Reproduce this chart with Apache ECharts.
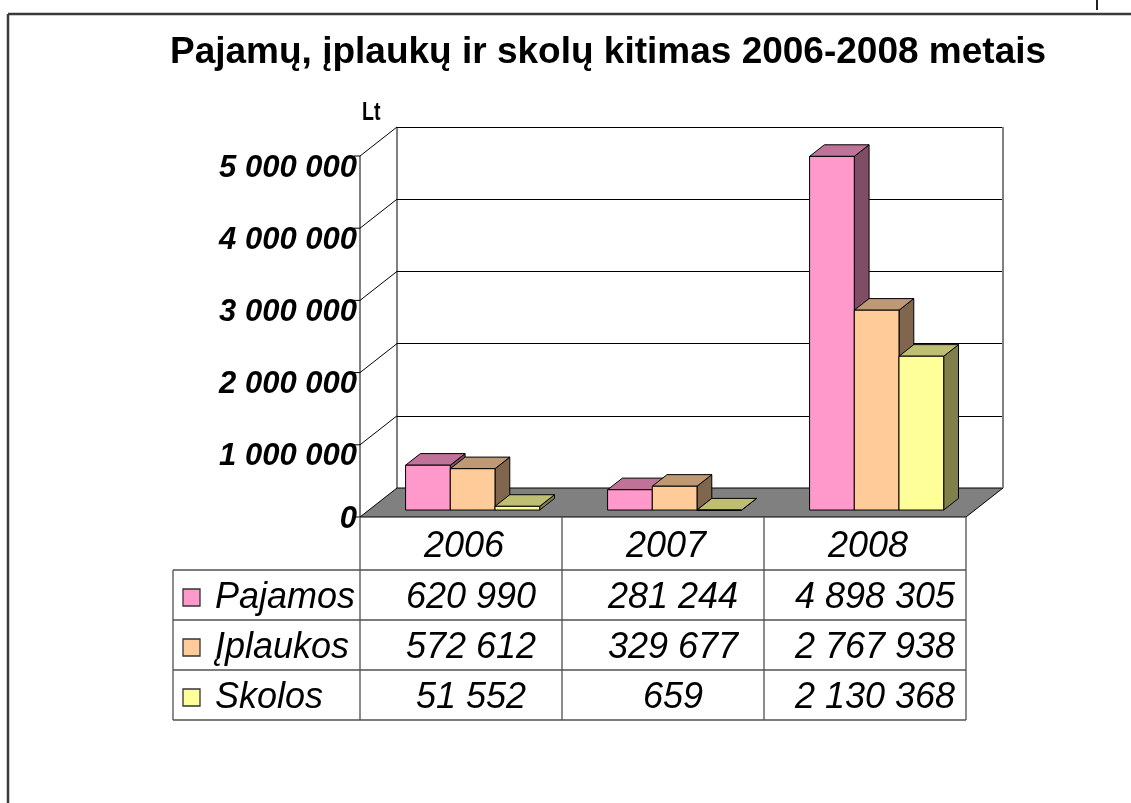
<!DOCTYPE html>
<html><head><meta charset="utf-8">
<script src="https://cdn.jsdelivr.net/npm/echarts@6/dist/echarts.min.js"></script>
<style>html,body{margin:0;padding:0;background:#fff}#c{width:1131px;height:803px}</style>
</head><body><div id="c"></div>
<script>
// ---------- data ----------
const categories = ['2006', '2007', '2008'];
const seriesNames = ['Pajamos', 'Įplaukos', 'Skolos'];
const pajamos = [620990, 281244, 4898305];
const iplaukos = [572612, 329677, 2767938];
const skolos = [51552, 659, 2130368];
const yTicks = [0, 1000000, 2000000, 3000000, 4000000, 5000000];
const titleText = 'Pajamų, įplaukų ir skolų kitimas 2006-2008 metais';
const unitText = 'Lt';
const seriesValues = [pajamos, iplaukos, skolos];

// ---------- style ----------
const FONT = '"Liberation Sans", Arial, sans-serif';
const DX = -37, DY = 29;            // back wall -> front edge of floor
const F_FRONT = 0.76, F_BACK = 0.36; // bar depth position (0 back, 1 front)
const BAR_START = 0.1817, BAR_W = 0.2213;
const HEADER_H = 53, ROW_H = 50, LABEL_W = 187;
const palette = [
  {front: '#FF99CC', top: '#BF7399', side: '#804D66'},
  {front: '#FFCC99', top: '#BF9973', side: '#80664D'},
  {front: '#FFFF99', top: '#BFBF73', side: '#80804D'}
];
const fmt = v => String(v).replace(/\B(?=(\d{3})+(?!\d))/g, ' ');
const yMax = yTicks[yTicks.length - 1];
const yStep = yTicks[1] - yTicks[0];

function line(x1, y1, x2, y2, stroke, w) {
  return {type: 'line', shape: {x1, y1, x2, y2}, style: {stroke: stroke || '#000', lineWidth: w || 1}};
}
function txt(text, x, y, font, align) {
  return {type: 'text', style: {text, x, y, font, fill: '#000', align: align, textAlign: align,
    verticalAlign: 'middle', textVerticalAlign: 'middle'}};
}

function renderScene(params, api) {
  const bw = api.size([1, 0])[0];
  const p0 = api.coord([0, 0]);
  const L = p0[0] - bw / 2, B = p0[1];
  const R = L + categories.length * bw;
  const T = api.coord([0, yMax])[1];
  const FL = L + DX, FB = B + DY, FR = R + DX;
  const ch = [];
  // floor
  ch.push({type: 'polygon', shape: {points: [[L, B], [R, B], [FR, FB], [FL, FB]]},
    style: {fill: '#808080', stroke: '#000', lineWidth: 1}});
  // back wall edges
  ch.push(line(L, T, L, B, '#000', 1));
  ch.push(line(R, T, R, B, '#808080', 2));
  // left wall + front axis
  yTicks.forEach(v => {
    const y = api.coord([0, v])[1];
    if (v > 0) ch.push(line(FL, y + DY, L, y, '#000', 1));
    ch.push(line(FL - 6, y + DY, FL, y + DY, '#000', 1));
  });
  ch.push(line(FL, T + DY, FL, FB, '#000', 1));
  // data table
  const tTop = FB, rTop = FB + HEADER_H, tBot = rTop + seriesNames.length * ROW_H;
  const tL = FL - LABEL_W;
  for (let i = 0; i <= categories.length; i++) ch.push(line(FL + i * bw, tTop, FL + i * bw, tBot, '#505050', 1.3));
  for (let k = 0; k <= seriesNames.length; k++) ch.push(line(tL, rTop + k * ROW_H, FR, rTop + k * ROW_H, '#505050', 1.3));
  ch.push(line(tL, rTop, tL, tBot, '#505050', 1.3));
  categories.forEach((c, i) => ch.push(txt(c, FL + (i + 0.5) * bw + 3, tTop + HEADER_H / 2 + 3, 'italic 36px ' + FONT, 'center')));
  seriesNames.forEach((n, k) => {
    const cy = rTop + (k + 0.5) * ROW_H + 3;
    ch.push({type: 'rect', shape: {x: tL + 10, y: cy - 9, width: 17, height: 17},
      style: {fill: palette[k].front, stroke: '#333', lineWidth: 1.3}});
    ch.push(txt(n, tL + 42, cy, 'italic 36px ' + FONT, 'left'));
    seriesValues[k].forEach((v, i) => {
      ch.push(txt(fmt(v), FL + (i + 0.5) * bw + 10, cy, 'italic 36px ' + FONT, 'center'));
    });
  });
  return {type: 'group', children: ch};
}

function barRenderer(s) {
  return function (params, api) {
    const ci = api.value(0), v = api.value(1);
    const bw = api.size([1, 0])[0];
    const c0 = api.coord([ci, 0]), cv = api.coord([ci, v]);
    const bandL = c0[0] - bw / 2;
    const x1 = bandL + DX * F_FRONT + BAR_START * bw + s * BAR_W * bw;
    const x2 = x1 + BAR_W * bw;
    const yB = c0[1] + DY * F_FRONT, yT = cv[1] + DY * F_FRONT;
    const sx = DX * (F_BACK - F_FRONT), sy = DY * (F_BACK - F_FRONT);
    const col = palette[s];
    const st = f => ({fill: f, stroke: '#000', lineWidth: 1});
    return {type: 'group', children: [
      {type: 'polygon', shape: {points: [[x2, yT], [x2 + sx, yT + sy], [x2 + sx, yB + sy], [x2, yB]]}, style: st(col.side)},
      {type: 'polygon', shape: {points: [[x1, yT], [x2, yT], [x2 + sx, yT + sy], [x1 + sx, yT + sy]]}, style: st(col.top)},
      {type: 'rect', shape: {x: x1, y: yT, width: x2 - x1, height: Math.max(yB - yT, 0.5)}, style: st(col.front)}
    ]};
  };
}

const chart = echarts.init(document.getElementById('c'), null, {renderer: 'canvas'});
const series = [{
  type: 'custom', name: 'scene', xAxisIndex: 0, yAxisIndex: 0, clip: false, silent: true,
  renderItem: renderScene, data: [[0, 0]], z: 1
}];
seriesValues.forEach((vals, s) => series.push({
  type: 'custom', name: seriesNames[s], xAxisIndex: 0, yAxisIndex: 0, clip: false, silent: true, z: 2,
  renderItem: barRenderer(s), data: vals.map((v, i) => [i, v])
}));

chart.setOption({
  animation: false,
  backgroundColor: '#fff',
  title: [
    {text: titleText, left: 165, top: 29, textStyle: {fontFamily: FONT, fontSize: 37, fontWeight: 'bold', color: '#000'}}
  ],
  grid: [
    {left: 397, top: 127, width: 606, height: 361, outerBoundsMode: 'none', containLabel: false},
    {left: 397, top: 168, width: 606, height: 361, outerBoundsMode: 'none', containLabel: false}
  ],
  xAxis: [
    {type: 'category', data: categories, gridIndex: 0, show: false},
    {type: 'category', data: categories, gridIndex: 1, show: false}
  ],
  yAxis: [
    {type: 'value', gridIndex: 0, min: 0, max: yMax, interval: yStep,
      axisLine: {show: false}, axisTick: {show: false}, axisLabel: {show: false},
      splitLine: {show: true, lineStyle: {color: '#000', width: 1}}},
    {type: 'value', gridIndex: 1, min: 0, max: yMax, interval: yStep,
      axisLine: {show: false}, axisTick: {show: false}, splitLine: {show: false},
      axisLabel: {show: true, margin: 40,
        formatter: v => v === 0 ? '{z|0}' : '{a|' + fmt(v) + '}',
        rich: {
          a: {fontFamily: FONT, fontSize: 31, fontWeight: 'bold', fontStyle: 'italic', color: '#000'},
          z: {fontFamily: FONT, fontSize: 31, fontWeight: 'bold', fontStyle: 'italic', color: '#000', padding: [0, 0, 20, 0]}
        }}}
  ],
  graphic: [
    {type: 'line', shape: {x1: 8, y1: 14, x2: 8, y2: 803}, style: {stroke: '#3a3a3a', lineWidth: 2.5}},
    {type: 'line', shape: {x1: 8, y1: 14, x2: 1131, y2: 14}, style: {stroke: '#3a3a3a', lineWidth: 2.5}},
    {type: 'line', shape: {x1: 1097, y1: 0, x2: 1097, y2: 10}, style: {stroke: '#222', lineWidth: 2}},
    {type: 'text', x: 362, y: 113, scaleX: 0.78, originX: 0, originY: 0,
      style: {text: unitText, font: 'bold 25px ' + FONT, fill: '#000', verticalAlign: 'middle', textVerticalAlign: 'middle'}}
  ],
  series: series
});
</script>
</body></html>
